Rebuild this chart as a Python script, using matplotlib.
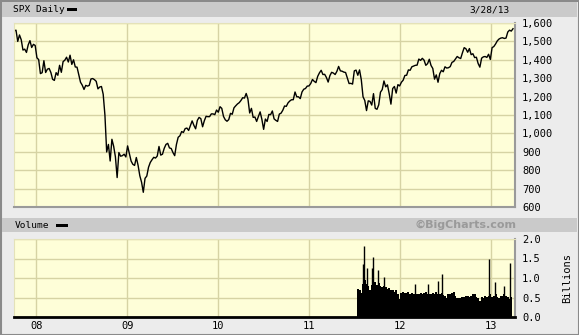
import matplotlib
matplotlib.use("Agg")
import matplotlib.pyplot as plt
from matplotlib.patches import Rectangle
from matplotlib.ticker import FuncFormatter
import pandas as pd

# weekly closes of SPX, Fridays from 2007-10-05 to 2013-03-28
close = [
    1557, 1561, 1500, 1535, 1509, 1453, 1458, 1440, 1481, 1504, 1467, 1484, 1478,
    # 2008
    1411, 1401, 1325, 1330, 1395, 1331, 1349, 1353, 1331, 1294, 1288, 1330, 1316,
    1370, 1332, 1390, 1398, 1414, 1388, 1425, 1375, 1400, 1361, 1360, 1318, 1278,
    1262, 1239, 1261, 1257, 1261, 1296, 1298, 1292, 1283, 1242, 1252, 1255, 1213,
    1099, 899, 940, 850, 968, 930, 873, 760, 896, 876, 879, 887, 872,
    # 2009
    932, 890, 850, 832, 826, 869, 827, 770, 735, 680, 756, 768, 816,
    842, 857, 870, 866, 877, 929, 882, 887, 919, 940, 946, 921, 918,
    896, 879, 940, 979, 987, 1010, 1005, 1026, 1029, 1016, 1042, 1068, 1044,
    1025, 1071, 1087, 1080, 1036, 1069, 1093, 1091, 1091, 1106, 1106, 1102, 1127, 1115,
    # 2010
    1145, 1136, 1092, 1074, 1066, 1075, 1109, 1104, 1139, 1150, 1160, 1167,
    1179, 1194, 1192, 1217, 1187, 1111, 1136, 1087, 1089, 1065, 1092, 1117, 1076,
    1022, 1078, 1065, 1103, 1102, 1122, 1079, 1071, 1065, 1105, 1110, 1126, 1149,
    1147, 1166, 1176, 1183, 1183, 1225, 1199, 1199, 1189, 1225, 1240, 1244, 1257, 1258,
    # 2011
    1271, 1293, 1283, 1276, 1310, 1329, 1343, 1320, 1321, 1304, 1279, 1314,
    1332, 1328, 1320, 1337, 1364, 1340, 1338, 1333, 1331, 1300, 1271, 1272, 1268,
    1340, 1344, 1316, 1345, 1292, 1199, 1179, 1124, 1177, 1174, 1154, 1216, 1136, 1131,
    1155, 1224, 1238, 1285, 1253, 1264, 1216, 1159, 1244, 1255, 1219, 1265, 1258,
    # 2012
    1278, 1289, 1315, 1316, 1345, 1343, 1362, 1366, 1370, 1371, 1404, 1397, 1408,
    1398, 1370, 1379, 1403, 1369, 1353, 1295, 1318, 1278, 1325, 1343, 1335, 1362,
    1355, 1357, 1363, 1386, 1391, 1405, 1418, 1411, 1407, 1438, 1466, 1460, 1441,
    1461, 1428, 1433, 1412, 1414, 1380, 1360, 1409, 1416, 1418, 1413, 1430, 1402,
    # 2013
    1466, 1472, 1486, 1503, 1513, 1518, 1520, 1516, 1518, 1551, 1561, 1556, 1569,
]

# weekly volume level (billions), from 2011-07-15
volume = [
    0.72, 0.70, 0.62, 0.85, 0.95, 0.85, 0.80, 0.70, 0.82, 0.95, 0.90, 0.82, 0.88,
    0.80, 0.78, 0.80, 0.78, 0.72, 0.75, 0.68, 0.70, 0.65, 0.68, 0.60, 0.45, 0.62,
    0.65, 0.62, 0.62, 0.65, 0.58, 0.62, 0.60, 0.58, 0.58, 0.60, 0.62, 0.58, 0.62,
    0.64, 0.60, 0.58, 0.60, 0.62, 0.60, 0.63, 0.60, 0.58, 0.62, 0.56, 0.55, 0.48,
    0.58, 0.58, 0.62, 0.65, 0.55, 0.48, 0.48, 0.50, 0.52, 0.52, 0.55, 0.55, 0.52,
    0.55, 0.58, 0.60, 0.52, 0.50, 0.40, 0.52, 0.50, 0.55, 0.52, 0.55, 0.58, 0.52,
    0.55, 0.58, 0.52, 0.50, 0.55, 0.55, 0.60, 0.55, 0.52, 0.45, 0.52,
]

# single-day volume spikes
spike_dates = ["2011-08-05", "2011-08-08", "2011-08-22", "2011-09-09", "2011-09-16",
               "2011-10-04", "2011-10-27", "2012-03-01", "2012-04-23", "2012-06-01",
               "2012-06-15", "2012-12-21", "2013-01-16", "2013-02-19", "2013-03-15"]
spike_vals = [1.35, 1.82, 1.25, 1.25, 1.53, 1.20, 1.03, 0.84, 0.85, 0.92,
              1.10, 1.49, 0.90, 0.80, 1.38]

price_ticks = [600, 700, 800, 900, 1000, 1100, 1200, 1300, 1400, 1500, 1600]
vol_ticks = [0.0, 0.5, 1.0, 1.5, 2.0]
year_labels = ["08", "09", "10", "11", "12", "13"]

W, H = 579, 335
BG = "#ececec"
PLOT_BG = "#fefed8"
GRID = "#d6d3a4"
STRIP = "#cacaca"
MONO = "DejaVu Sans Mono"

dates = pd.date_range("2007-10-05", periods=len(close), freq="W-FRI")
vdates = pd.date_range("2011-07-15", periods=len(volume), freq="W-FRI")
sdates = pd.to_datetime(spike_dates)
years = pd.to_datetime(["20%s-01-01" % y for y in year_labels])
xlim = (pd.Timestamp("2007-10-04"), pd.Timestamp("2013-04-06"))

fig = plt.figure(figsize=(W / 100, H / 100), dpi=100)
fig.patch.set_facecolor(BG)


def px(x0, y0, x1, y1):
    # pixel box -> figure fractions
    return [x0 / W, 1 - y1 / H, (x1 - x0) / W, (y1 - y0) / H]


def box(x0, y0, x1, y1, color, **kw):
    l, b, w, h = px(x0, y0, x1, y1)
    fig.add_artist(Rectangle((l, b), w, h, transform=fig.transFigure,
                             facecolor=color, edgecolor="none", **kw))


# outer frame and header strips
fig.add_artist(Rectangle((0.5 / W, 0.5 / H), 1 - 1 / W, 1 - 1 / H, transform=fig.transFigure,
                         facecolor="none", edgecolor="#8a8a8a", lw=1.5))
box(2, 2, 577, 17, STRIP)
box(2, 218, 577, 232, STRIP)
box(67, 8, 77, 11, "black")
box(56, 224, 68, 227, "black")
fig.text(13 / W, 1 - 10 / H, "SPX Daily", family=MONO, fontsize=6.8, va="center")
fig.text(510 / W, 1 - 10 / H, "3/28/13", family=MONO, fontsize=6.8, va="center", ha="right")
fig.text(15 / W, 1 - 225 / H, "Volume", family=MONO, fontsize=6.8, va="center")
fig.text(516 / W, 1 - 225 / H, "\u00a9BigCharts.com", fontsize=8, weight="bold",
         color="#9a9a9a", va="center", ha="right")
fig.text(567 / W, 1 - 278 / H, "Billions", family=MONO, fontsize=7.5, va="center",
         ha="center", rotation=90)

# price panel
ax = fig.add_axes(px(14, 23, 515, 207))
ax.set_facecolor(PLOT_BG)
ax.plot(dates, close, color="black", lw=1.0)
ax.set_xlim(*xlim)
ax.set_ylim(600, 1600)
ax.set_yticks(price_ticks)
ax.yaxis.set_major_formatter(FuncFormatter(lambda v, p: f"{int(v):,}"))
ax.set_xticks(years)
ax.set_xticklabels([])

# volume panel
av = fig.add_axes(px(14, 239, 515, 317))
av.set_facecolor(PLOT_BG)
av.bar(vdates, volume, width=8, color="black", align="center", lw=0)
av.vlines(sdates, 0, spike_vals, color="black", lw=1.0)
av.set_xlim(*xlim)
av.set_ylim(0, 2.0)
av.set_yticks(vol_ticks)
av.yaxis.set_major_formatter(FuncFormatter(lambda v, p: f"{v:.1f}"))
av.set_xticks(years)
av.set_xticklabels(year_labels)

for a in (ax, av):
    a.grid(True, color=GRID, lw=1.0)
    a.set_axisbelow(True)
    a.yaxis.tick_right()
    a.tick_params(length=0, labelsize=7.5, pad=5)
    for lab in a.get_xticklabels() + a.get_yticklabels():
        lab.set_family(MONO)
    for side in ("top", "left"):
        a.spines[side].set_color("#e4e2b8")
    a.spines["right"].set_color("#9a9a9a")
    a.spines["bottom"].set_color("#9a9a9a")
    a.spines["right"].set_linewidth(1.5)
    a.spines["bottom"].set_linewidth(1.5)
av.spines["bottom"].set_color("black")
av.spines["bottom"].set_linewidth(2)
av.tick_params(axis="x", pad=3)

fig.savefig("out.png", dpi=100, facecolor=BG)
